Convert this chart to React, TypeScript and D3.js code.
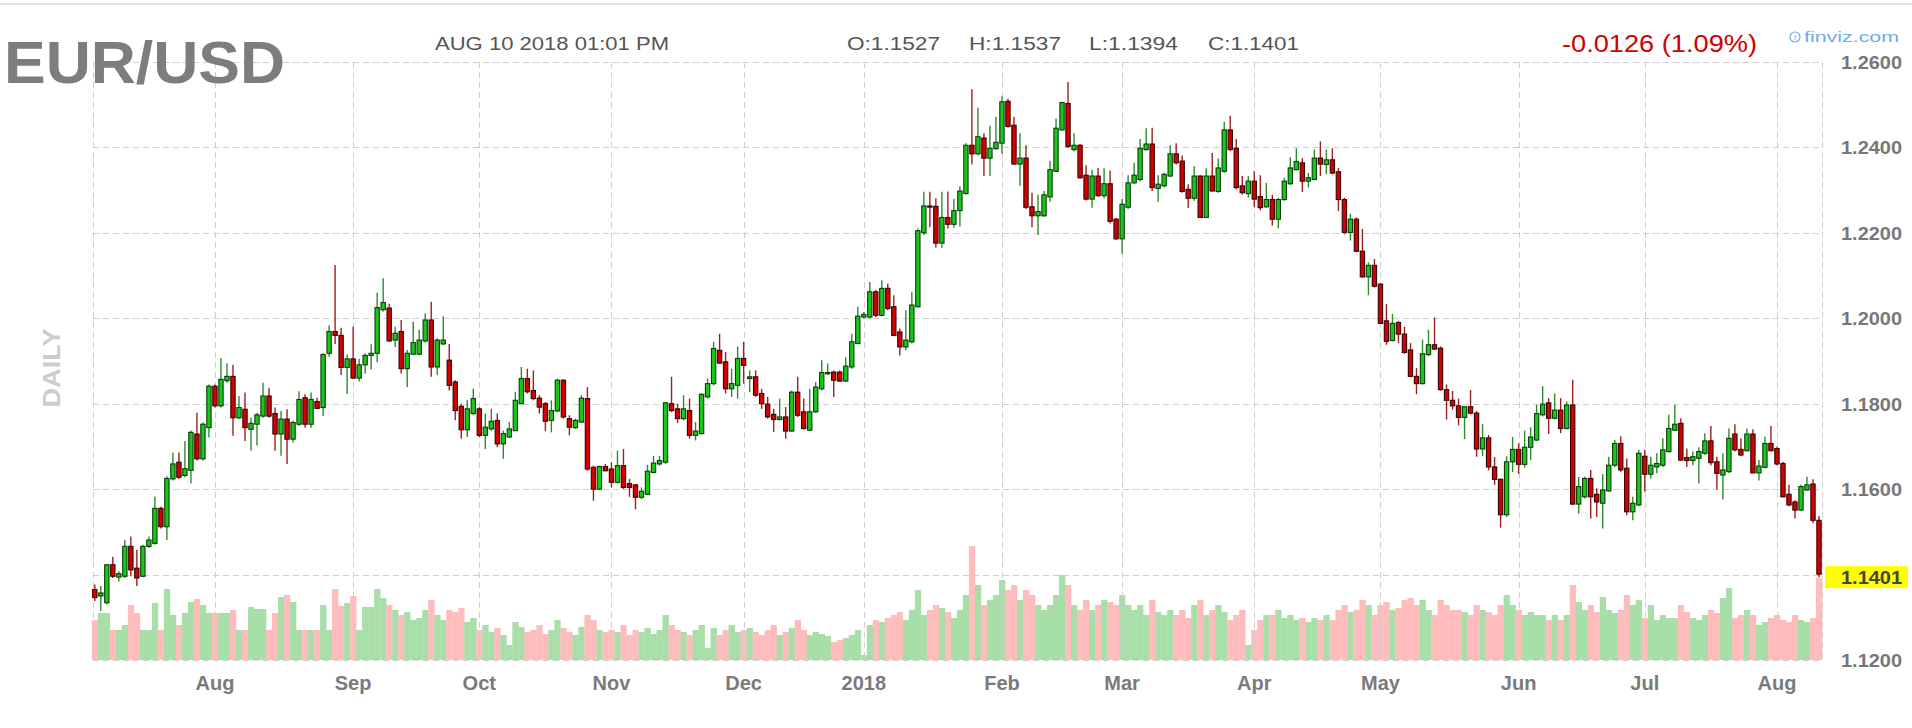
import React from 'react';
import * as d3 from 'd3';

// ---------- DATA ----------
const START_DATE = '2017-07-04';
const HOLIDAYS = ['2017-12-25'];
const MONTH_LABELS = ['Aug', 'Sep', 'Oct', 'Nov', 'Dec', '2018', 'Feb', 'Mar', 'Apr', 'May', 'Jun', 'Jul', 'Aug'];
const PRICE_TICKS = [1.26, 1.24, 1.22, 1.2, 1.18, 1.16, 1.14, 1.12];
const LAST_PRICE = 1.1401;

const OPEN = [
  1.1365,1.1350,1.1334,1.1423,1.1394,1.1396,1.1466,1.1415,1.1396,1.1466,
  1.1473,1.1555,1.1512,1.1624,1.1663,1.1632,1.1644,1.1729,1.1671,1.1744,
  1.1841,1.1795,1.1854,1.1864,1.1767,1.1787,1.1740,1.1752,1.1771,1.1818,
  1.1777,1.1729,1.1764,1.1717,1.1752,1.1814,1.1752,1.1805,1.1791,1.1918,
  1.1969,1.1960,1.1885,1.1905,1.1860,1.1891,1.1913,1.1918,1.2020,1.2024,
  1.1949,1.1969,1.1882,1.1916,1.1916,1.1947,1.1996,1.1886,1.1940,1.1902,
  1.1851,1.1794,1.1739,1.1777,1.1788,1.1726,1.1741,1.1761,1.1706,1.1722,
  1.1737,1.1800,1.1859,1.1831,1.1813,1.1800,1.1761,1.1783,1.1855,1.1765,
  1.1744,1.1757,1.1812,1.1651,1.1600,1.1653,1.1647,1.1616,1.1655,1.1613,
  1.1610,1.1581,1.1588,1.1639,1.1659,1.1663,1.1800,1.1788,1.1765,1.1784,
  1.1726,1.1730,1.1816,1.1847,1.1925,1.1898,1.1835,1.1843,1.1906,1.1859,
  1.1863,1.1824,1.1799,1.1775,1.1763,1.1769,1.1736,1.1827,1.1781,1.1738,
  1.1781,1.1835,1.1870,1.1874,1.1874,1.1853,1.1886,1.1941,1.2003,1.2003,
  1.2062,1.2007,1.2070,1.2027,1.1968,1.1933,1.1945,1.2027,1.2200,1.2263,
  1.2262,1.2176,1.2236,1.2220,1.2252,1.2292,1.2405,1.2385,1.2422,1.2375,
  1.2397,1.2410,1.2508,1.2452,1.2361,1.2375,1.2261,1.2240,1.2240,1.2284,
  1.2344,1.2441,1.2503,1.2395,1.2405,1.2335,1.2279,1.2333,1.2287,1.2315,
  1.2232,1.2186,1.2260,1.2317,1.2325,1.2395,1.2408,1.2304,1.2310,1.2333,
  1.2385,1.2368,1.2302,1.2281,1.2333,1.2236,1.2333,1.2297,1.2344,1.2441,
  1.2398,1.2310,1.2292,1.2321,1.2285,1.2261,1.2278,1.2232,1.2278,1.2315,
  1.2348,1.2364,1.2321,1.2325,1.2375,1.2360,1.2371,1.2343,1.2278,1.2201,
  1.2232,1.2157,1.2097,1.2124,1.2080,1.1994,1.1948,1.1990,1.1963,1.1926,
  1.1864,1.1847,1.1915,1.1938,1.1930,1.1833,1.1808,1.1795,1.1768,1.1793,
  1.1778,1.1694,1.1720,1.1652,1.1623,1.1540,1.1664,1.1693,1.1658,1.1698,
  1.1715,1.1774,1.1802,1.1766,1.1785,1.1742,1.1797,1.1565,1.1582,1.1625,
  1.1588,1.1567,1.1596,1.1656,1.1707,1.1649,1.1547,1.1563,1.1677,1.1635,
  1.1652,1.1656,1.1688,1.1738,1.1754,1.1674,1.1667,1.1672,1.1684,1.1713,
  1.1664,1.1633,1.1641,1.1729,1.1693,1.1690,1.1729,1.1638,1.1651,1.1707,
  1.1695,1.1660,1.1588,1.1570,1.1551,1.1598,1.1612,1.1527,
];

const HIGH = [
  1.1377,1.1373,1.1425,1.1442,1.1408,1.1481,1.1489,1.1458,1.1470,1.1489,
  1.1582,1.1559,1.1630,1.1686,1.1686,1.1713,1.1737,1.1779,1.1756,1.1845,
  1.1845,1.1907,1.1895,1.1891,1.1818,1.1826,1.1767,1.1779,1.1849,1.1837,
  1.1791,1.1783,1.1787,1.1760,1.1829,1.1822,1.1826,1.1814,1.1918,1.1983,
  1.2125,1.1978,1.1915,1.1980,1.1905,1.1918,1.1939,1.2060,1.2094,1.2034,
  1.1980,1.1996,1.1926,1.1992,1.1973,1.2012,1.2039,1.1953,1.2005,1.1940,
  1.1855,1.1800,1.1808,1.1835,1.1792,1.1777,1.1788,1.1777,1.1737,1.1757,
  1.1828,1.1886,1.1882,1.1878,1.1820,1.1804,1.1808,1.1859,1.1857,1.1773,
  1.1765,1.1820,1.1839,1.1655,1.1655,1.1659,1.1663,1.1690,1.1694,1.1624,
  1.1612,1.1604,1.1657,1.1678,1.1678,1.1804,1.1863,1.1800,1.1820,1.1812,
  1.1757,1.1824,1.1859,1.1945,1.1964,1.1921,1.1882,1.1934,1.1945,1.1878,
  1.1878,1.1835,1.1816,1.1788,1.1812,1.1792,1.1831,1.1863,1.1812,1.1835,
  1.1851,1.1902,1.1894,1.1878,1.1878,1.1909,1.1963,1.2027,1.2015,1.2085,
  1.2066,1.2089,1.2081,1.2054,1.1976,1.2019,1.2062,1.2210,1.2296,1.2296,
  1.2281,1.2296,1.2297,1.2280,1.2309,1.2410,1.2536,1.2493,1.2433,1.2451,
  1.2472,1.2520,1.2514,1.2472,1.2433,1.2405,1.2294,1.2289,1.2298,1.2369,
  1.2468,1.2507,1.2553,1.2433,1.2408,1.2358,1.2348,1.2352,1.2351,1.2346,
  1.2235,1.2279,1.2335,1.2364,1.2420,1.2445,1.2446,1.2335,1.2341,1.2405,
  1.2410,1.2381,1.2314,1.2356,1.2335,1.2351,1.2387,1.2374,1.2460,1.2474,
  1.2420,1.2333,1.2333,1.2344,1.2335,1.2317,1.2289,1.2282,1.2329,1.2377,
  1.2398,1.2375,1.2340,1.2395,1.2414,1.2395,1.2398,1.2352,1.2282,1.2245,
  1.2236,1.2209,1.2131,1.2139,1.2081,1.2033,1.2010,1.1994,1.1980,1.1942,
  1.1884,1.1950,1.1973,1.2002,1.1934,1.1845,1.1830,1.1812,1.1790,1.1832,
  1.1783,1.1752,1.1727,1.1675,1.1625,1.1677,1.1722,1.1707,1.1737,1.1745,
  1.1797,1.1841,1.1813,1.1824,1.1813,1.1805,1.1856,1.1629,1.1629,1.1645,
  1.1602,1.1635,1.1676,1.1715,1.1724,1.1672,1.1582,1.1692,1.1692,1.1676,
  1.1684,1.1719,1.1774,1.1797,1.1766,1.1695,1.1688,1.1698,1.1731,1.1748,
  1.1676,1.1684,1.1742,1.1752,1.1719,1.1742,1.1740,1.1668,1.1723,1.1748,
  1.1699,1.1664,1.1610,1.1574,1.1610,1.1629,1.1623,1.1537,
];

const LOW = [
  1.1338,1.1315,1.1330,1.1392,1.1384,1.1392,1.1396,1.1373,1.1394,1.1462,
  1.1470,1.1508,1.1481,1.1620,1.1624,1.1628,1.1613,1.1667,1.1667,1.1721,
  1.1791,1.1791,1.1849,1.1725,1.1764,1.1713,1.1690,1.1702,1.1767,1.1767,
  1.1690,1.1678,1.1659,1.1709,1.1748,1.1744,1.1744,1.1787,1.1771,1.1910,
  1.1940,1.1867,1.1823,1.1858,1.1852,1.1870,1.1880,1.1897,1.2016,1.1945,
  1.1933,1.1871,1.1839,1.1914,1.1914,1.1943,1.1863,1.1867,1.1937,1.1831,
  1.1761,1.1718,1.1722,1.1773,1.1722,1.1694,1.1737,1.1698,1.1671,1.1720,
  1.1736,1.1799,1.1824,1.1808,1.1777,1.1736,1.1733,1.1780,1.1765,1.1726,
  1.1741,1.1755,1.1643,1.1573,1.1598,1.1642,1.1604,1.1613,1.1600,1.1582,
  1.1553,1.1577,1.1586,1.1637,1.1655,1.1659,1.1780,1.1755,1.1761,1.1718,
  1.1714,1.1728,1.1812,1.1843,1.1894,1.1824,1.1816,1.1812,1.1847,1.1827,
  1.1816,1.1788,1.1765,1.1734,1.1761,1.1718,1.1734,1.1769,1.1739,1.1736,
  1.1778,1.1831,1.1867,1.1816,1.1851,1.1851,1.1882,1.1939,1.1999,1.1999,
  1.2003,1.2005,1.2019,1.1958,1.1913,1.1925,1.1941,1.2025,1.2195,1.2213,
  1.2165,1.2165,1.2210,1.2212,1.2215,1.2290,1.2360,1.2381,1.2333,1.2333,
  1.2395,1.2385,1.2446,1.2360,1.2310,1.2256,1.2213,1.2195,1.2238,1.2273,
  1.2343,1.2439,1.2400,1.2391,1.2327,1.2276,1.2259,1.2284,1.2281,1.2222,
  1.2184,1.2151,1.2256,1.2315,1.2321,1.2392,1.2298,1.2273,1.2307,1.2331,
  1.2360,1.2294,1.2258,1.2275,1.2235,1.2235,1.2297,1.2294,1.2341,1.2391,
  1.2302,1.2290,1.2283,1.2260,1.2253,1.2259,1.2217,1.2211,1.2275,1.2312,
  1.2346,1.2296,1.2306,1.2323,1.2333,1.2337,1.2337,1.2251,1.2197,1.2182,
  1.2155,1.2095,1.2054,1.2072,1.1987,1.1938,1.1946,1.1942,1.1917,1.1863,
  1.1822,1.1845,1.1911,1.1926,1.1830,1.1763,1.1786,1.1749,1.1717,1.1775,
  1.1676,1.1677,1.1644,1.1610,1.1510,1.1535,1.1640,1.1636,1.1650,1.1668,
  1.1713,1.1770,1.1729,1.1763,1.1731,1.1740,1.1563,1.1543,1.1578,1.1531,
  1.1535,1.1508,1.1594,1.1652,1.1641,1.1539,1.1527,1.1560,1.1594,1.1625,
  1.1637,1.1652,1.1685,1.1737,1.1667,1.1652,1.1656,1.1613,1.1680,1.1656,
  1.1599,1.1576,1.1638,1.1688,1.1677,1.1688,1.1637,1.1620,1.1649,1.1688,
  1.1656,1.1581,1.1560,1.1531,1.1549,1.1596,1.1520,1.1394,
];

const CLOSE = [
  1.1346,1.1357,1.1423,1.1396,1.1402,1.1466,1.1411,1.1392,1.1466,1.1481,
  1.1555,1.1512,1.1625,1.1659,1.1628,1.1648,1.1733,1.1671,1.1752,1.1841,
  1.1795,1.1857,1.1864,1.1767,1.1791,1.1744,1.1754,1.1774,1.1818,1.1771,
  1.1729,1.1764,1.1717,1.1756,1.1810,1.1752,1.1810,1.1789,1.1915,1.1969,
  1.1960,1.1885,1.1905,1.1860,1.1891,1.1913,1.1918,1.2025,1.2037,1.1947,
  1.1965,1.1882,1.1918,1.1943,1.1949,1.1996,1.1886,1.1949,1.1949,1.1843,
  1.1784,1.1739,1.1788,1.1812,1.1726,1.1745,1.1759,1.1706,1.1730,1.1741,
  1.1808,1.1859,1.1828,1.1812,1.1792,1.1759,1.1784,1.1855,1.1769,1.1745,
  1.1761,1.1813,1.1647,1.1600,1.1653,1.1643,1.1616,1.1655,1.1604,1.1604,
  1.1581,1.1595,1.1642,1.1661,1.1667,1.1802,1.1784,1.1765,1.1788,1.1726,
  1.1736,1.1822,1.1847,1.1929,1.1895,1.1835,1.1847,1.1906,1.1890,1.1863,
  1.1820,1.1800,1.1769,1.1763,1.1769,1.1736,1.1827,1.1773,1.1742,1.1781,
  1.1839,1.1873,1.1873,1.1855,1.1853,1.1888,1.1945,1.2005,1.2009,1.2062,
  1.2007,1.2070,1.2023,1.1960,1.1933,1.1949,1.2031,1.2205,1.2263,1.2262,
  1.2176,1.2236,1.2220,1.2252,1.2298,1.2405,1.2385,1.2425,1.2375,1.2398,
  1.2412,1.2507,1.2449,1.2361,1.2375,1.2260,1.2240,1.2250,1.2289,1.2348,
  1.2445,1.2505,1.2402,1.2405,1.2329,1.2279,1.2333,1.2287,1.2315,1.2227,
  1.2186,1.2267,1.2317,1.2335,1.2398,1.2408,1.2306,1.2314,1.2337,1.2385,
  1.2364,1.2297,1.2281,1.2333,1.2236,1.2333,1.2298,1.2352,1.2441,1.2395,
  1.2306,1.2294,1.2321,1.2279,1.2259,1.2278,1.2232,1.2278,1.2321,1.2352,
  1.2367,1.2321,1.2329,1.2375,1.2361,1.2371,1.2340,1.2278,1.2201,1.2232,
  1.2157,1.2097,1.2124,1.2075,1.1988,1.1946,1.1988,1.1963,1.1920,1.1864,
  1.1847,1.1917,1.1938,1.1928,1.1833,1.1808,1.1795,1.1768,1.1793,1.1778,
  1.1694,1.1720,1.1652,1.1623,1.1540,1.1664,1.1693,1.1658,1.1698,1.1722,
  1.1777,1.1799,1.1766,1.1785,1.1742,1.1797,1.1565,1.1606,1.1625,1.1582,
  1.1570,1.1598,1.1656,1.1707,1.1645,1.1547,1.1567,1.1684,1.1635,1.1656,
  1.1660,1.1692,1.1742,1.1752,1.1668,1.1667,1.1676,1.1688,1.1713,1.1662,
  1.1637,1.1645,1.1719,1.1692,1.1680,1.1729,1.1638,1.1654,1.1707,1.1690,
  1.1659,1.1582,1.1563,1.1551,1.1606,1.1610,1.1527,1.1401,
];

const VOLUME = [
  40,47,47,30,30,35,55,47,30,30,
  57,30,71,45,35,47,58,61,55,47,
  47,47,47,50,30,30,53,51,51,30,
  47,63,65,58,30,30,30,30,55,30,
  71,54,57,64,30,53,53,71,62,55,
  50,45,48,40,42,50,60,45,40,50,
  48,52,38,42,30,35,28,32,25,15,
  38,33,28,30,35,26,30,40,32,28,
  25,33,45,40,30,28,30,28,35,25,
  30,28,32,26,30,45,35,30,28,25,
  30,35,12,32,25,30,35,28,30,32,
  28,25,30,35,25,28,32,40,30,25,
  28,26,24,18,20,22,25,30,5,35,
  40,38,42,45,48,40,50,70,45,50,
  55,52,48,42,50,65,114,75,55,60,
  65,80,70,75,60,70,65,55,50,55,
  65,85,75,55,50,60,50,55,60,58,
  55,65,55,50,55,45,60,48,45,50,
  45,50,42,55,60,45,50,55,48,40,
  45,50,15,30,40,45,45,50,42,45,
  40,42,38,42,40,45,40,50,55,48,
  50,60,55,45,55,58,50,52,60,62,
  55,60,50,45,60,55,50,50,48,45,
  55,50,48,45,55,65,55,50,45,48,
  45,45,40,45,40,45,75,58,50,55,
  48,63,50,47,50,65,55,60,42,55,
  40,45,42,42,55,48,42,40,45,50,
  47,62,72,42,45,50,45,35,38,42,
  45,40,38,45,40,38,42,82,
];

// ---------- STYLE ----------
const UP_FILL = '#19c719';
const UP_EDGE = '#0b3d0b';
const UP_WICK = '#2e8b2e';
const DN_FILL = '#d20000';
const DN_EDGE = '#3a0000';
const DN_WICK = '#9b2020';
const VOL_UP = '#a8dea8';
const VOL_DN = '#ffbcbc';
const GRID = '#cfcfcf';
const FONT = "'Liberation Sans', Arial, sans-serif";

function buildDates(start: string, n: number, holidays: string[]): Date[] {
  const out: Date[] = [];
  const d = new Date(start + 'T12:00:00Z');
  while (out.length < n) {
    const wd = d.getUTCDay();
    const iso = d.toISOString().slice(0, 10);
    if (wd !== 0 && wd !== 6 && !holidays.includes(iso)) out.push(new Date(d));
    d.setUTCDate(d.getUTCDate() + 1);
  }
  return out;
}

export default function App() {
  const W = 1912;
  const H = 728;
  const n = CLOSE.length;
  const dates = buildDates(START_DATE, n, HOLIDAYS);

  const plotLeft = 93;
  const plotRight = 1822;
  const x = d3.scaleLinear().domain([0, n - 1]).range([94.8, 1819]);
  const step = x(1) - x(0);
  const y = d3.scaleLinear().domain([1.12, 1.26]).range([660, 62]);
  const yv = d3.scaleLinear().domain([0, 120]).range([660, 540]);

  const monthIdx: number[] = [];
  for (let i = 1; i < n; i++) {
    if (dates[i].getUTCMonth() !== dates[i - 1].getUTCMonth()) monthIdx.push(i);
  }

  const px = (v: number) => Math.round(v) + 0.5;
  const bodyW = 4.3;

  return (
    <svg
      width={W}
      height={H}
      viewBox={`0 0 ${W} ${H}`}
      style={{ position: 'absolute', left: 0, top: 0, background: '#fff' }}
    >
      <rect x={0} y={0} width={W} height={H} fill="#fff" />
      <line x1={0} x2={W} y1={4} y2={4} stroke="#e3e3e3" strokeWidth={2} />

      {/* volume */}
      {VOLUME.map((v, i) => (
        <rect
          key={'v' + i}
          x={x(i) - step / 2}
          y={yv(v)}
          width={step + 0.3}
          height={yv(0) - yv(v)}
          fill={CLOSE[i] >= OPEN[i] ? VOL_UP : VOL_DN}
        />
      ))}

      {/* grid */}
      {PRICE_TICKS.map((p) => (
        <line
          key={'h' + p}
          x1={plotLeft}
          x2={plotRight}
          y1={px(y(p))}
          y2={px(y(p))}
          stroke={GRID}
          strokeDasharray="6,4"
        />
      ))}
      {[...monthIdx.map((i) => x(i)), plotLeft, plotRight].map((gx, k) => (
        <line
          key={'g' + k}
          x1={px(gx)}
          x2={px(gx)}
          y1={y(1.26)}
          y2={y(1.12)}
          stroke={GRID}
          strokeDasharray="6,4"
        />
      ))}

      {/* candles */}
      {CLOSE.map((c, i) => {
        const o = OPEN[i];
        const up = c >= o;
        const cx = x(i);
        const top = y(Math.max(o, c));
        const bot = y(Math.min(o, c));
        return (
          <g key={'c' + i}>
            <line
              x1={cx}
              x2={cx}
              y1={y(HIGH[i])}
              y2={y(LOW[i])}
              stroke={up ? UP_WICK : DN_WICK}
              strokeWidth={1.4}
            />
            <rect
              x={cx - bodyW / 2}
              y={top}
              width={bodyW}
              height={Math.max(1.2, bot - top)}
              fill={up ? UP_FILL : DN_FILL}
              stroke={up ? UP_EDGE : DN_EDGE}
              strokeWidth={1.1}
            />
          </g>
        );
      })}

      {/* header texts */}
      <text x={4} y={83} fontFamily={FONT} fontSize={60} fontWeight="bold" fill="#7d7d7d" textLength={281} lengthAdjust="spacingAndGlyphs">
        EUR/USD
      </text>
      <text x={435} y={50} fontFamily={FONT} fontSize={19} fill="#555" textLength={234} lengthAdjust="spacingAndGlyphs">
        AUG 10 2018 01:01 PM
      </text>
      {[
        ['O:' + OPEN[n - 1].toFixed(4), 847, 93],
        ['H:' + HIGH[n - 1].toFixed(4), 969, 92],
        ['L:' + LOW[n - 1].toFixed(4), 1089, 89],
        ['C:' + CLOSE[n - 1].toFixed(4), 1208, 91],
      ].map(([t, tx, tl]) => (
        <text key={String(t)} x={tx as number} y={50} fontFamily={FONT} fontSize={19} fill="#555" textLength={tl as number} lengthAdjust="spacingAndGlyphs">
          {t}
        </text>
      ))}
      <text x={1562} y={52} fontFamily={FONT} fontSize={23} fill="#d00000" textLength={195} lengthAdjust="spacingAndGlyphs">
        {(CLOSE[n - 1] - CLOSE[n - 2] >= 0 ? '+' : '') + (CLOSE[n - 1] - CLOSE[n - 2]).toFixed(4) + ' (1.09%)'}
      </text>
      <circle cx={1795} cy={37} r={5} fill="none" stroke="#6aaee6" strokeWidth={1.2} />
      <text x={1795} y={40} fontFamily={FONT} fontSize={7} fill="#6aaee6" textAnchor="middle">f</text>
      <text x={1804} y={42} fontFamily={FONT} fontSize={14} fill="#6aaee6" textLength={95} lengthAdjust="spacingAndGlyphs">
        finviz.com
      </text>

      {/* DAILY */}
      <text
        transform="translate(60,368) rotate(-90)"
        fontFamily={FONT}
        fontSize={24}
        fontWeight="bold"
        fill="#cdcdcd"
        textAnchor="middle"
        textLength={79}
        lengthAdjust="spacingAndGlyphs"
      >
        DAILY
      </text>

      {/* y axis labels */}
      {PRICE_TICKS.filter((p) => Math.abs(p - LAST_PRICE) > 0.005).map((p) => (
        <text key={'yl' + p} x={1841} y={y(p) + 7} fontFamily={FONT} fontSize={19} fontWeight="bold" fill="#777" textLength={61} lengthAdjust="spacingAndGlyphs">
          {p.toFixed(4)}
        </text>
      ))}
      <rect x={1825} y={y(LAST_PRICE) - 8} width={83} height={22} fill="#ffff00" />
      <text x={1841} y={y(LAST_PRICE) + 10} fontFamily={FONT} fontSize={19} fontWeight="bold" fill="#444" textLength={61} lengthAdjust="spacingAndGlyphs">
        {LAST_PRICE.toFixed(4)}
      </text>

      {/* x axis labels */}
      {monthIdx.map((i, k) => (
        <text key={'m' + k} x={x(i)} y={690} fontFamily={FONT} fontSize={20} fontWeight="bold" fill="#7a7a7a" textAnchor="middle">
          {MONTH_LABELS[k]}
        </text>
      ))}
    </svg>
  );
}
